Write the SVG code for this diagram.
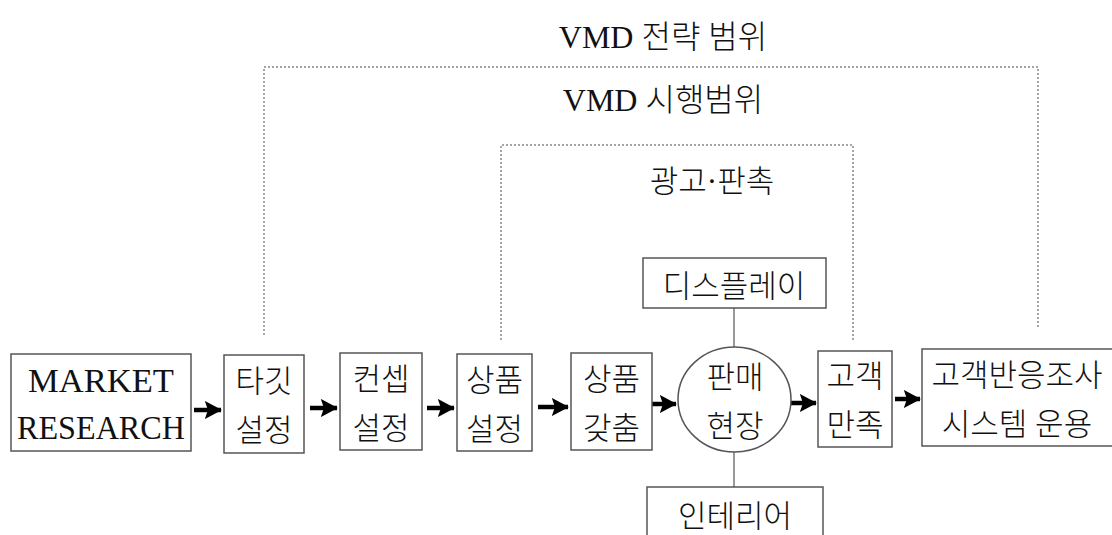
<svg xmlns="http://www.w3.org/2000/svg" width="1112" height="535" viewBox="0 0 1112 535">
<style>
text{font-family:"Liberation Serif","Noto Sans CJK KR",serif;fill:#111;text-anchor:middle;font-weight:300}
.t{font-size:31px}
.h{font-size:32px}
.m{font-size:34px;font-weight:400}
.box{fill:#fff;stroke:#555;stroke-width:1.5}
.dot{fill:none;stroke:#888;stroke-width:1.5;stroke-dasharray:2 2}
.ln{stroke:#777;stroke-width:1.5}
.ar{stroke:#000;stroke-width:4.5;marker-end:url(#ah)}
</style>
<defs>
<marker id="ah" markerWidth="5" markerHeight="5" refX="3.6" refY="2.2" orient="auto" markerUnits="strokeWidth">
<path d="M0,0.2 L3.8,2.2 L0,4.2 L0.7,2.2 Z" fill="#000"/>
</marker>
</defs>
<rect width="1112" height="535" fill="#fff"/>
<g id="scopes">
<path class="dot" d="M264,335 V67 H1038 V327"/>
<path class="dot" d="M501,340 V145 H853 V340"/>
<text class="h" x="663" y="48">VMD 전략 범위</text>
<text class="h" x="663" y="111">VMD 시행범위</text>
<text class="t" x="712" y="192">광고·판촉</text>
</g>
<g id="connectors">
<line class="ln" x1="734" y1="308" x2="734" y2="347"/>
<line class="ln" x1="734" y1="452" x2="734" y2="487"/>
<line class="ar" x1="194" y1="410" x2="221" y2="410"/>
<line class="ar" x1="310" y1="408" x2="337" y2="408"/>
<line class="ar" x1="427" y1="408" x2="454" y2="408"/>
<line class="ar" x1="538" y1="407" x2="568" y2="407"/>
<line class="ar" x1="651" y1="404" x2="676" y2="404"/>
<line class="ar" x1="791" y1="403" x2="816" y2="403"/>
<line class="ar" x1="895" y1="399" x2="920" y2="399"/>
</g>
<g id="market">
<rect class="box" x="11" y="354" width="180" height="97"/>
<text class="m" x="101" y="392" textLength="146" lengthAdjust="spacingAndGlyphs">MARKET</text>
<text class="m" x="101" y="439" textLength="168" lengthAdjust="spacingAndGlyphs">RESEARCH</text>
</g>
<g id="target">
<rect class="box" x="224" y="355" width="80" height="98"/>
<text class="t" x="264" y="392">타깃</text>
<text class="t" x="264" y="441">설정</text>
</g>
<g id="concept">
<rect class="box" x="340" y="353" width="82" height="97"/>
<text class="t" x="381" y="390">컨셉</text>
<text class="t" x="381" y="439">설정</text>
</g>
<g id="product-set">
<rect class="box" x="457" y="354" width="75" height="97"/>
<text class="t" x="494.5" y="391">상품</text>
<text class="t" x="494.5" y="440">설정</text>
</g>
<g id="product-assort">
<rect class="box" x="571" y="353" width="81" height="97"/>
<text class="t" x="611.5" y="390">상품</text>
<text class="t" x="611.5" y="439">갖춤</text>
</g>
<g id="display">
<rect class="box" x="643" y="258" width="183" height="50"/>
<text class="t" x="734" y="297">디스플레이</text>
</g>
<g id="store">
<ellipse class="box" cx="734.5" cy="399.5" rx="56.5" ry="52.5"/>
<text class="t" x="735" y="388">판매</text>
<text class="t" x="735" y="437">현장</text>
</g>
<g id="interior">
<rect class="box" x="647" y="487" width="176" height="60"/>
<text class="t" x="735" y="527">인테리어</text>
</g>
<g id="satisfaction">
<rect class="box" x="818" y="351" width="74" height="96"/>
<text class="t" x="855" y="387">고객</text>
<text class="t" x="855" y="436">만족</text>
</g>
<g id="response">
<rect class="box" x="922" y="349" width="200" height="97"/>
<text class="t" x="1017" y="386">고객반응조사</text>
<text class="t" x="1017" y="435">시스템 운용</text>
</g>
</svg>
